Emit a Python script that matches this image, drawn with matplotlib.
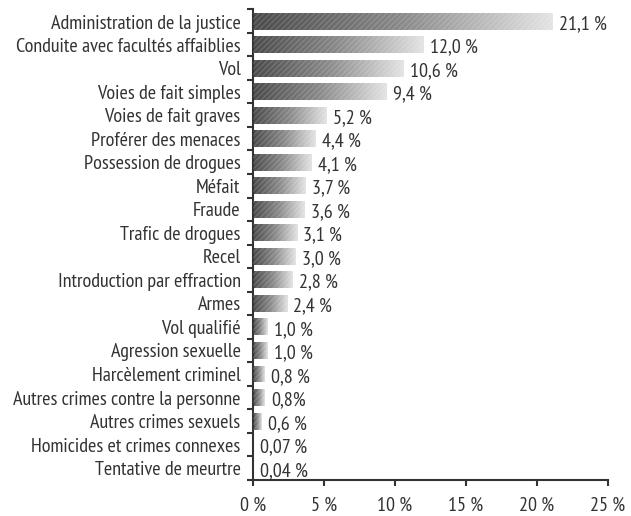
import numpy as np
import matplotlib
matplotlib.use('Agg')
import matplotlib.pyplot as plt
from matplotlib.colors import LinearSegmentedColormap

plt.rcParams['font.family'] = ['PT Sans Narrow', 'DejaVu Sans']

# données
categories = [
    'Administration de la justice', 'Conduite avec facultés affaiblies', 'Vol',
    'Voies de fait simples', 'Voies de fait graves', 'Proférer des menaces',
    'Possession de drogues', 'Méfait', 'Fraude', 'Trafic de drogues', 'Recel',
    'Introduction par effraction', 'Armes', 'Vol qualifié', 'Agression sexuelle',
    'Harcèlement criminel', 'Autres crimes contre la personne',
    'Autres crimes sexuels', 'Homicides et crimes connexes', 'Tentative de meurtre',
]
values = [21.1, 12.0, 10.6, 9.4, 5.2, 4.4, 4.1, 3.7, 3.6, 3.1, 3.0, 2.8, 2.4,
          1.0, 1.0, 0.8, 0.8, 0.6, 0.07, 0.04]
value_labels = ['21,1 %', '12,0 %', '10,6 %', '9,4 %', '5,2 %', '4,4 %', '4,1 %',
                '3,7 %', '3,6 %', '3,1 %', '3,0 %', '2,8 %', '2,4 %', '1,0 %',
                '1,0 %', '0,8 %', '0,8%', '0,6 %', '0,07 %', '0,04 %']
xticks = [0, 5, 10, 15, 20, 25]
xtick_labels = ['0 %', '5 %', '10 %', '15 %', '20 %', '25 %']

FS = 14.5
TXT = '#333333'

fig = plt.figure(figsize=(6.31, 5.16), dpi=100)
ax = fig.add_axes([0.401, 0.070, 0.5625, 0.912])

cmap = LinearSegmentedColormap.from_list('g', ['#4a4a4a', '#8a8a8a', '#e4e4e4'])
grad = np.linspace(0, 1, 256).reshape(1, -1)

y = np.arange(len(categories))
bars = ax.barh(y, values, height=0.72, color='none', edgecolor='none')
for b in bars:
    x0, y0, w, h = b.get_x(), b.get_y(), b.get_width(), b.get_height()
    if w <= 0.1:
        continue
    im = ax.imshow(grad, extent=[x0, x0 + w, y0, y0 + h], cmap=cmap,
                   aspect='auto', origin='lower', zorder=2)
    im.set_clip_path(b)
    # texture tramée
    ax.barh(b.get_y() + h / 2, w, height=h, color='none', hatch='//////',
            edgecolor=(1, 1, 1, 0.15), linewidth=0, zorder=3)

for yi, v, lab in zip(y, values, value_labels):
    ax.text(v + 0.45, yi + 0.12, lab, ha='left', va='center', fontsize=FS,
            color=TXT)

ax.set_xlim(0, 25)
ax.set_ylim(len(categories) - 0.5, -0.5)
ax.set_yticks(y)
ax.set_yticklabels(categories, fontsize=FS, color=TXT)
ax.set_yticks(np.arange(len(categories) + 1) - 0.5, minor=True)
ax.tick_params(axis='y', which='major', length=0, pad=9)
ax.tick_params(axis='y', which='minor', length=4, width=1.5, color=TXT)
ax.set_xticks(xticks)
ax.set_xticklabels(xtick_labels, fontsize=FS, color=TXT)
ax.tick_params(axis='x', length=4, width=1.5, color=TXT, pad=8)

for s in ['top', 'right']:
    ax.spines[s].set_visible(False)
for s in ['left', 'bottom']:
    ax.spines[s].set_linewidth(1.5)
    ax.spines[s].set_color(TXT)

fig.savefig('out.png', dpi=100)
